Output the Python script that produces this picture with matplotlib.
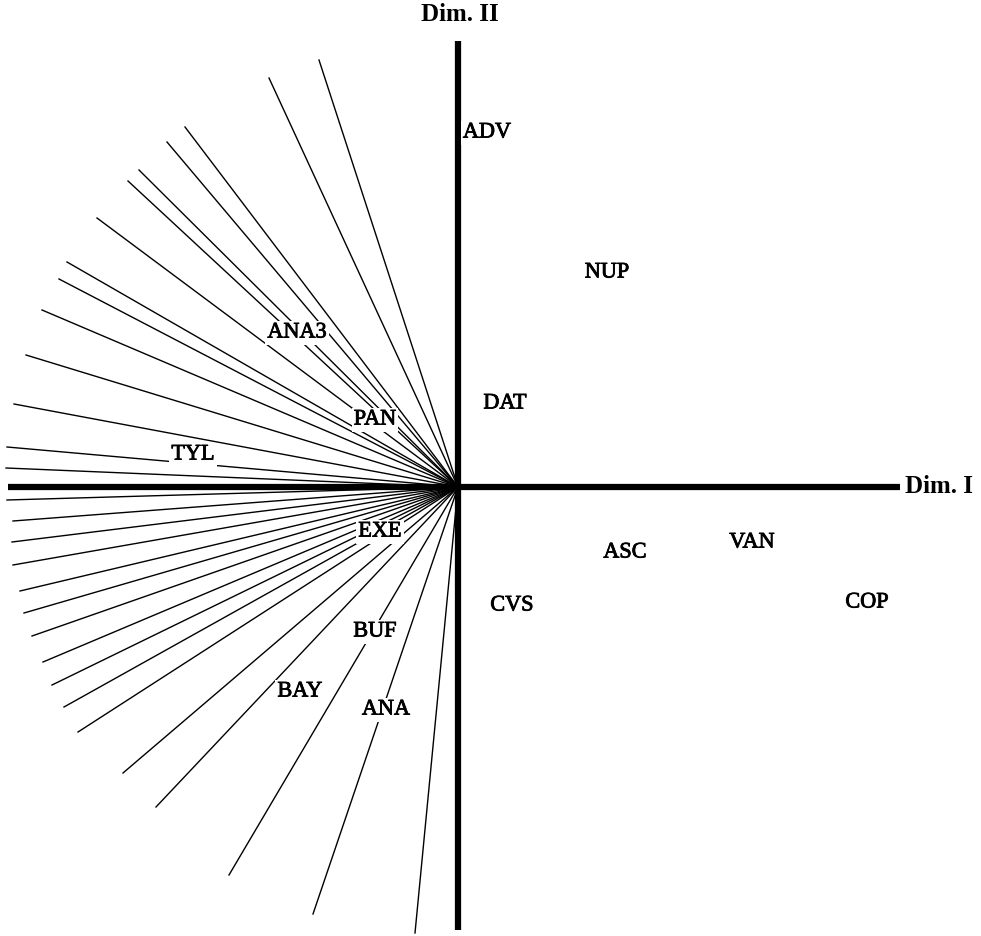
# -*- encoding: utf-8 -*-
import matplotlib
matplotlib.use("Agg")
import matplotlib.pyplot as plt
import matplotlib.patheffects as pe


# variable vectors (end points, Dim. I / Dim. II)
vec_x = [-1.39, -1.89, -2.73, -2.91, -3.19, -3.30, -3.61, -3.91, -3.99, -4.16,
         -4.32, -4.44, -4.51, -4.52, -4.51, -4.45, -4.46, -4.45, -4.38, -4.34,
         -4.26, -4.15, -4.06, -3.94, -3.80, -3.35, -3.02, -2.29, -1.45, -0.43]
vec_y = [4.27, 4.09, 3.60, 3.45, 3.17, 3.06, 2.69, 2.25, 2.08, 1.77,
         1.32, 0.83, 0.40, 0.19, -0.13, -0.34, -0.55, -0.78, -1.04, -1.26,
         -1.49, -1.75, -1.98, -2.20, -2.45, -2.86, -3.20, -3.88, -4.27, -4.46]

# object labels
names = ["ADV", "NUP", "DAT", "ASC", "VAN", "COP", "CVS",
         "ANA3", "PAN", "TYL", "EXE", "BUF", "BAY", "ANA"]
pos_x = [0.29, 1.49, 0.47, 1.67, 2.94, 4.09, 0.54,
         -1.61, -0.83, -2.65, -0.78, -0.83, -1.58, -0.72]
pos_y = [3.54, 2.14, 0.83, -0.66, -0.56, -1.16, -1.19,
         1.54, 0.67, 0.32, -0.45, -1.45, -2.05, -2.23]


def main():
    fig = plt.figure(figsize=(9.81, 9.36), dpi=100)
    ax = fig.add_axes([0, 0, 1, 1])
    ax.set_xlim(-4.58, 5.23)
    ax.set_ylim(-4.49, 4.87)
    ax.axis("off")

    for x, y in zip(vec_x, vec_y):
        ax.plot([0, x], [0, y], color="black", lw=1.0, zorder=1)

    # the two dimensions
    ax.plot([-4.50, 4.42], [0, 0], color="black", lw=4.5,
            solid_capstyle="butt", zorder=2)
    ax.plot([0, 0], [-4.43, 4.46], color="black", lw=4.5,
            solid_capstyle="butt", zorder=2)

    font = "Liberation Serif"
    heavy = [pe.withStroke(linewidth=0.6, foreground="black")]
    ax.text(4.47, 0, "Dim. I", family=font, fontsize=18, fontweight="bold",
            ha="left", va="center")
    ax.text(0.02, 4.72, "Dim. II", family=font, fontsize=18, fontweight="bold",
            ha="center", va="center")

    for n, x, y in zip(names, pos_x, pos_y):
        t = ax.text(x, y, n, family=font, fontsize=16, ha="center", va="center",
                    zorder=3,
                    bbox=dict(boxstyle="square,pad=0.1", fc="white", ec="none"))
        t.set_path_effects(heavy)

    fig.savefig("out.png", dpi=100, facecolor="white")


if __name__ == "__main__":
    main()
